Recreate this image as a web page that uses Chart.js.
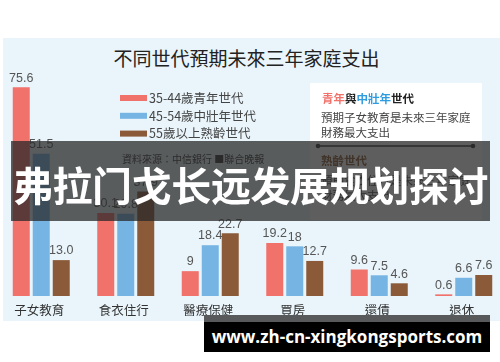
<!DOCTYPE html>
<html>
<head>
<meta charset="utf-8">
<script src="https://cdn.jsdelivr.net/npm/chart.js@4"></script>
<style>
    body { margin: 0; width: 500px; height: 362px; overflow: hidden; background: #fff; position: relative; }
    #panel { position: absolute; left: 3px; top: 38px; width: 497px; height: 283px; background: #e9f5fb; }
    #wrap { position: absolute; left: -1px; top: 0; width: 507px; height: 322px; }
    #title { position: absolute; left: 0; width: 493px; top: 44px; text-align: center; font: 19px "Noto Sans CJK TC"; color: #222; }
    #banner { position: absolute; left: 11px; top: 141px; width: 479px; height: 80px; background: rgba(40, 40, 40, 0.75);
        color: #fff; font: bold 40px "Noto Sans CJK SC"; line-height: 80px; text-align: center; white-space: nowrap; letter-spacing: -0.4px; }
    #banner span { position: relative; top: 3px; }
    #markStrip { position: absolute; left: 204px; top: 315px; width: 286px; height: 7px; background: #58595a; }
    #mark { position: absolute; left: 204px; top: 322px; width: 286px; height: 30px; background: #000;
        color: #fff; font: bold 17px "Open Sans"; line-height: 30px; text-align: center; }
</style>
</head>
<body>
<div id="panel"></div>
<div id="title">不同世代預期未來三年家庭支出</div>
<div id="wrap"><canvas id="spendChart"></canvas></div>
<div id="banner"><span>弗拉门戈长远发展规划探讨</span></div>
<div id="markStrip"></div>
<div id="mark">www.zh-cn-xingkongsports.com</div>
<script>
const categories = ["子女教育", "食衣住行", "醫療保健", "買房", "還債", "退休"];
const seriesNames = ["35-44歲青年世代", "45-54歲中壯年世代", "55歲以上熟齡世代"];
// valori come stringhe per tenere il testo delle etichette ("13.0")
const youngValues = ["75.6", "30.1", "9", "19.2", "9.6", "0.6"];
const middleValues = ["51.5", "29.8", "18.4", "18", "7.5", "6.6"];
const seniorValues = ["13.0", "37.9", "22.7", "12.7", "4.6", "7.6"];
const seriesColors = ["#f1716b", "#76b4e3", "#8b5a38"];

const cjk = '"Noto Sans CJK TC"';

// etichette, legenda e riquadro di testo disegnati sul canvas
const extras = {
    id: "extras",
    afterDatasetsDraw(chart) {
        const ctx = chart.ctx;
        const xScale = chart.scales.x;
        ctx.save();

        // valori sopra le barre
        ctx.font = "12.5px 'Liberation Sans'";
        ctx.fillStyle = "#555";
        ctx.textAlign = "center";
        ctx.textBaseline = "bottom";
        chart.data.datasets.forEach((ds, di) => {
            chart.getDatasetMeta(di).data.forEach((bar, i) => {
                ctx.fillText(ds.data[i], bar.x, bar.y - 3);
            });
        });

        // nomi categorie
        ctx.font = "12.5px " + cjk;
        ctx.fillStyle = "#333";
        ctx.textBaseline = "middle";
        categories.forEach((c, i) => {
            ctx.fillText(c, xScale.getPixelForValue(i) - 2, 310);
        });

        // legenda
        ctx.textAlign = "left";
        ctx.font = "12.5px " + cjk;
        chart.data.datasets.forEach((ds, di) => {
            const y = 98 + di * 17.8;
            ctx.fillStyle = ds.backgroundColor;
            ctx.fillRect(121, y - 3, 27, 6);
            ctx.fillStyle = "#444";
            ctx.fillText(ds.label, 150, y);
        });

        // fonte
        ctx.font = "10px " + cjk;
        ctx.fillStyle = "#333";
        ctx.fillText("資料來源：中信銀行 ■聯合晚報", 123, 159);

        // riquadro bianco
        ctx.fillStyle = "#fff";
        ctx.fillRect(311, 83, 172, 137);
        ctx.font = "bold 11.5px " + cjk;
        let x = 323;
        [["青年", "#f1716b"], ["與", "#222"], ["中壯年", "#2f9be0"], ["世代", "#222"]].forEach(([t, col]) => {
            ctx.fillStyle = col;
            ctx.fillText(t, x, 99);
            x += ctx.measureText(t).width;
        });
        ctx.font = "11.5px " + cjk;
        ctx.fillStyle = "#444";
        ctx.fillText("預期子女教育是未來三年家庭", 322, 118);
        ctx.fillText("財務最大支出", 322, 133);
        ctx.strokeStyle = "#333";
        ctx.lineWidth = 1.5;
        ctx.beginPath();
        ctx.moveTo(319, 146);
        ctx.lineTo(474, 146);
        ctx.stroke();
        ctx.fillStyle = "#333";
        [319, 474].forEach((px) => {
            ctx.beginPath();
            ctx.arc(px, 146, 2.3, 0, Math.PI * 2);
            ctx.fill();
        });
        ctx.font = "bold 11.5px " + cjk;
        ctx.fillStyle = "#8b5a30";
        ctx.fillText("熟齡世代", 322, 161);
        ctx.font = "11.5px " + cjk;
        ctx.fillStyle = "#444";
        ctx.fillText("預期食衣住行是未來三年家庭", 322, 181);
        ctx.fillText("財務最大支出", 322, 196);
        ctx.restore();
    },
};

const ctx = document.getElementById("spendChart").getContext("2d");
const spendChart = new Chart(ctx, {
    type: "bar",
    data: {
        labels: categories,
        datasets: [
            { label: seriesNames[0], data: youngValues, backgroundColor: seriesColors[0] },
            { label: seriesNames[1], data: middleValues, backgroundColor: seriesColors[1] },
            { label: seriesNames[2], data: seniorValues, backgroundColor: seriesColors[2] },
        ],
    },
    options: {
        responsive: true,
        maintainAspectRatio: false,
        animation: false,
        layout: { padding: { top: 20, bottom: 26, left: 0, right: 0 } },
        datasets: { bar: { categoryPercentage: 0.71, barPercentage: 0.85 } },
        scales: {
            x: { display: false },
            y: { display: false, min: 0, max: 100 },
        },
        plugins: {
            legend: { display: false },
            tooltip: { enabled: false },
        },
    },
    plugins: [extras],
});
</script>
</body>
</html>
